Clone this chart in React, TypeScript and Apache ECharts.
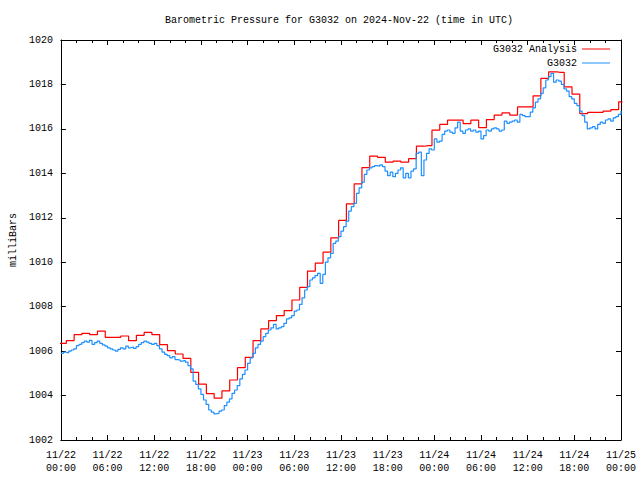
import React, { useEffect, useRef } from "react";
import * as echarts from "echarts";

const TITLE = "Barometric Pressure for G3032 on 2024-Nov-22 (time in UTC)";
const Y_NAME = "milliBars";
const ANALYSIS_NAME = "G3032 Analysis";
const STATION_NAME = "G3032";

// Hourly analysis values, 11/22 00:00 .. 11/25 00:00 (hour 0..72)
const analysisValues = [
  1006.35, 1006.47, 1006.74, 1006.8, 1006.74, 1006.9, 1006.62, 1006.62, 1006.68, 1006.47,
  1006.71, 1006.84, 1006.74, 1006.29, 1006.02, 1005.87, 1005.67, 1005.04, 1004.51, 1004.09,
  1003.88, 1004.21, 1004.7, 1005.26, 1005.72, 1006.47, 1007.0, 1007.37, 1007.6, 1007.82,
  1008.3, 1008.87, 1009.6, 1009.96, 1010.45, 1011.1, 1011.88, 1012.63, 1013.53, 1014.26,
  1014.77, 1014.72, 1014.5, 1014.55, 1014.5, 1014.66, 1015.22, 1015.25, 1015.94, 1016.2,
  1016.39, 1016.39, 1016.24, 1016.39, 1016.06, 1016.42, 1016.62, 1016.72, 1016.62, 1016.99,
  1016.99, 1017.49, 1018.27, 1018.57, 1018.54, 1017.89, 1017.56, 1016.69, 1016.74, 1016.74,
  1016.8, 1016.87, 1017.22,
];
const analysisMinuteOffset = 12; // analysis stamps at hh:12

// Station observations every 20 minutes from 11/22 00:00
const stationValues = [
  1005.9, 1005.95, 1005.92, 1006.0, 1006.05, 1006.1, 1006.25, 1006.3, 1006.38,
  1006.45, 1006.4, 1006.48, 1006.3, 1006.38, 1006.45, 1006.35, 1006.28, 1006.22,
  1006.15, 1006.1, 1006.05, 1006.0, 1006.08, 1006.15, 1006.1, 1006.22, 1006.15,
  1006.18, 1006.12, 1006.2, 1006.3, 1006.38, 1006.45, 1006.4, 1006.35, 1006.3,
  1006.35, 1006.25, 1006.1, 1005.95, 1005.85, 1005.8, 1005.7, 1005.75, 1005.62,
  1005.6, 1005.55, 1005.58, 1005.5, 1005.35, 1005.2, 1004.65, 1004.5, 1004.3,
  1004.05, 1003.8, 1003.6, 1003.35, 1003.25, 1003.18, 1003.2, 1003.3, 1003.35,
  1003.55, 1003.7, 1003.85, 1004.1, 1004.25, 1004.45, 1004.75, 1004.95, 1005.15,
  1005.45, 1005.7, 1005.9, 1006.15, 1006.3, 1006.45, 1006.65, 1006.8, 1006.95,
  1007.05, 1007.2, 1007.0, 1007.05, 1007.1, 1007.25, 1007.45, 1007.5, 1007.6,
  1007.8, 1007.85, 1008.1, 1008.4, 1008.75, 1008.9, 1009.2, 1009.3, 1009.4,
  1009.5, 1009.05, 1009.45, 1010.0, 1010.2, 1010.4, 1010.85, 1010.95, 1011.15,
  1011.4, 1011.6, 1011.85, 1012.3, 1012.5, 1012.65, 1013.1, 1013.35, 1013.6,
  1013.95, 1014.15, 1014.25, 1014.3, 1014.35, 1014.32, 1014.38, 1014.3, 1014.1,
  1013.9, 1014.05, 1013.85, 1014.0, 1014.15, 1014.25, 1013.8, 1014.0, 1013.8,
  1014.1, 1014.2, 1014.9, 1014.95, 1013.9, 1014.6, 1014.9, 1015.1, 1015.05,
  1015.55, 1015.4, 1015.45, 1015.75, 1015.9, 1015.95, 1015.85, 1015.8, 1016.05,
  1016.3, 1015.9, 1015.8, 1015.95, 1016.0, 1015.9, 1015.95, 1015.85, 1015.9,
  1015.55, 1015.7, 1015.95, 1015.9, 1016.0, 1016.05, 1016.0, 1015.9, 1015.95,
  1016.35, 1016.25, 1016.3, 1016.35, 1016.4, 1016.3, 1016.65, 1016.6, 1016.55,
  1016.55, 1016.75, 1016.95, 1017.2, 1017.35, 1017.6, 1017.85, 1018.2, 1018.35,
  1018.5, 1018.1, 1018.2, 1018.15, 1018.0, 1017.8, 1017.7, 1017.45, 1017.35,
  1017.15, 1017.05, 1016.8, 1016.6, 1016.3, 1016.0, 1016.05, 1016.1, 1016.0,
  1016.2, 1016.3, 1016.25, 1016.4, 1016.45, 1016.35, 1016.5, 1016.55, 1016.65,
  1016.8,
];
const stationStepMinutes = 20;

const FONT = "'Liberation Mono', 'DejaVu Sans Mono', monospace";

function hourLabel(v: number): string {
  const day = 22 + Math.floor(v / 24);
  const hh = v % 24;
  return `11/${day}\n${String(hh).padStart(2, "0")}:00`;
}

export default function App() {
  const ref = useRef<HTMLDivElement>(null);
  useEffect(() => {
    if (!ref.current) return;
    const chart = echarts.init(ref.current, undefined, { renderer: "svg" });

    const redData: [number, number][] = [[-1 + analysisMinuteOffset / 60, analysisValues[0]]];
    analysisValues.forEach((v, h) => redData.push([h + analysisMinuteOffset / 60, v]));
    const blueData: [number, number][] = stationValues.map((v, i) => [
      (i * stationStepMinutes) / 60,
      v,
    ]);

    const tickStyle = { color: "#000", width: 1 };
    const xBase = {
      type: "value" as const,
      min: 0,
      max: 72,
      interval: 6,
      axisLine: { show: true, onZero: false, lineStyle: tickStyle },
      axisTick: { show: true, inside: true, length: 5, lineStyle: tickStyle },
      minorTick: { show: true, splitNumber: 3, length: 3, lineStyle: tickStyle },
      splitLine: { show: false },
    };
    const yBase = {
      type: "value" as const,
      min: 1002,
      max: 1020,
      interval: 2,
      axisLine: { show: true, onZero: false, lineStyle: tickStyle },
      axisTick: { show: true, inside: true, length: 5, lineStyle: tickStyle },
      splitLine: { show: false },
    };

    chart.setOption({
      animation: false,
      backgroundColor: "#fff",
      title: {
        text: TITLE,
        left: 165,
        top: 14,
        padding: 0,
        textStyle: {
          fontFamily: FONT,
          fontSize: 10,
          fontWeight: "normal",
          color: "#000",
          lineHeight: 12,
        },
      },
      legend: {
        orient: "vertical",
        right: 30,
        top: 43,
        align: "right",
        itemWidth: 28,
        itemHeight: 1,
        itemGap: 2,
        padding: 0,
        icon: "rect",
        textStyle: { fontFamily: FONT, fontSize: 10, color: "#000", lineHeight: 12 },
        data: [ANALYSIS_NAME, STATION_NAME],
      },
      grid: { left: 59, right: 19, top: 40, bottom: 40, containLabel: false },
      xAxis: [
        {
          ...xBase,
          position: "bottom",
          axisLabel: {
            formatter: hourLabel,
            fontFamily: FONT,
            fontSize: 10,
            color: "#000",
            margin: 9,
            lineHeight: 13,
          },
        },
        { ...xBase, position: "top", axisLabel: { show: false } },
      ],
      yAxis: [
        {
          ...yBase,
          position: "left",
          name: Y_NAME,
          nameLocation: "middle",
          nameRotate: 90,
          nameGap: 41,
          nameTextStyle: { fontFamily: FONT, fontSize: 10, color: "#000" },
          axisLabel: {
            formatter: (v: number) => String(v),
            fontFamily: FONT,
            fontSize: 10,
            color: "#000",
            margin: 8,
          },
        },
        { ...yBase, position: "right", axisLabel: { show: false } },
      ],
      series: [
        {
          name: ANALYSIS_NAME,
          type: "line",
          step: "middle",
          data: redData,
          symbol: "none",
          clip: true,
          lineStyle: { color: "#ff0000", width: 1.2 },
          itemStyle: { color: "#ff0000" },
        },
        {
          name: STATION_NAME,
          type: "line",
          step: "end",
          data: blueData,
          symbol: "none",
          clip: true,
          lineStyle: { color: "#1e90ff", width: 1.2 },
          itemStyle: { color: "#1e90ff" },
        },
      ],
    });
    return () => chart.dispose();
  }, []);
  return (
    <div
      ref={ref}
      style={{ position: "absolute", left: 0, top: 0, width: 640, height: 480 }}
    />
  );
}
